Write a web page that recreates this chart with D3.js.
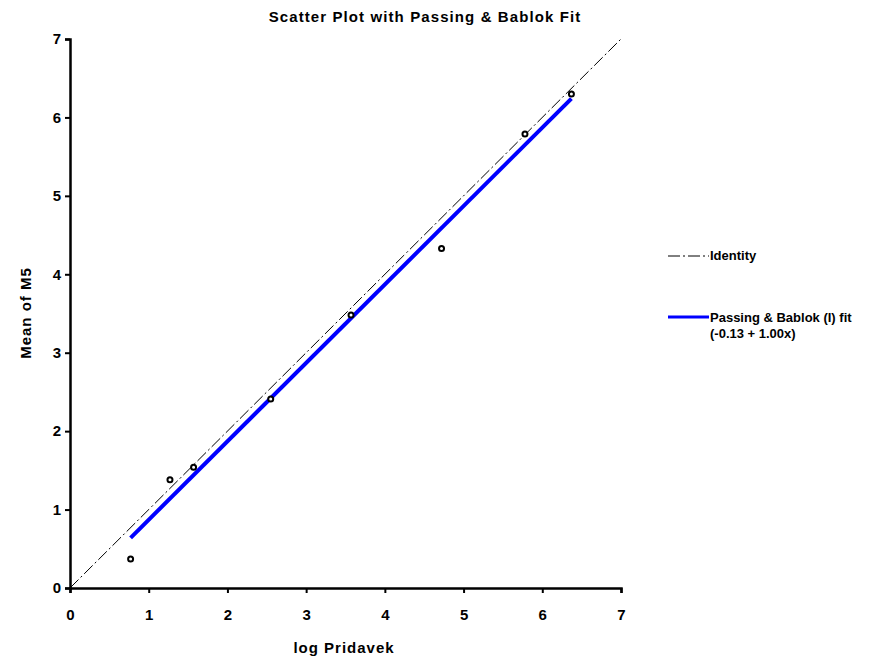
<!DOCTYPE html>
<html><head><meta charset="utf-8">
<script src="https://cdn.jsdelivr.net/npm/d3@7"></script>
<style>body{margin:0;background:#fff}text{font-family:"Liberation Sans",Arial,sans-serif}</style>
</head><body>
<svg id="c" width="888" height="662"></svg>
<script>
const xValues = [0.77, 1.27, 1.57, 2.55, 3.57, 4.72, 5.78, 6.37];
const yValues = [0.37, 1.38, 1.54, 2.41, 3.48, 4.33, 5.79, 6.30];
const tickValues = [0, 1, 2, 3, 4, 5, 6, 7];
const fitIntercept = -0.13, fitSlope = 1.00;
const legendLabels = ["Identity", "Passing & Bablok (I) fit", "(-0.13 + 1.00x)"];

const svg = d3.select("#c");
const x = d3.scaleLinear().domain([0, 7]).range([70, 621]);
const y = d3.scaleLinear().domain([0, 7]).range([588, 39]);

// identity
svg.append("line").attr("x1", x(0)).attr("y1", y(0)).attr("x2", x(7)).attr("y2", y(7))
  .attr("stroke", "#000").attr("stroke-width", 1).attr("stroke-dasharray", "12,3,2,3");
// fit
const x0 = d3.min(xValues), x1 = d3.max(xValues);
svg.append("line").attr("x1", x(x0)).attr("y1", y(fitIntercept + fitSlope * x0))
  .attr("x2", x(x1)).attr("y2", y(fitIntercept + fitSlope * x1))
  .attr("stroke", "#0000ff").attr("stroke-width", 4);
// points
svg.selectAll("circle.p").data(xValues).enter().append("circle")
  .attr("cx", (d) => x(d)).attr("cy", (d, i) => y(yValues[i])).attr("r", 2.5)
  .attr("fill", "#fff").attr("stroke", "#000").attr("stroke-width", 2);

// axes
const xa = svg.append("g").attr("transform", "translate(0,588)")
  .call(d3.axisBottom(x).tickValues(tickValues).tickSize(5).tickPadding(16).tickFormat(d3.format("d")));
const ya = svg.append("g").attr("transform", "translate(70,0)")
  .call(d3.axisLeft(y).tickValues(tickValues).tickSize(5).tickPadding(4).tickFormat(d3.format("d")));
[xa, ya].forEach(a => {
  a.select(".domain").attr("stroke-width", 2.5);
  a.selectAll(".tick line").attr("stroke-width", 2);
  a.selectAll("text").attr("font-size", 15).attr("font-weight", "bold").attr("fill", "#000");
});

svg.append("text").attr("x", 425).attr("y", 22).attr("text-anchor", "middle")
  .attr("font-size", 15).attr("letter-spacing", 1.1).attr("font-weight", "bold").text("Scatter Plot with Passing & Bablok Fit");
svg.append("text").attr("x", 344).attr("y", 653).attr("text-anchor", "middle")
  .attr("font-size", 15).attr("letter-spacing", 1).attr("font-weight", "bold").text("log Pridavek");
svg.append("text").attr("transform", "translate(31,313) rotate(-90)").attr("text-anchor", "middle")
  .attr("font-size", 15).attr("letter-spacing", 1).attr("font-weight", "bold").text("Mean of M5");

// legend
svg.append("line").attr("x1", 668).attr("x2", 709).attr("y1", 256).attr("y2", 256)
  .attr("stroke", "#000").attr("stroke-width", 1).attr("stroke-dasharray", "12,3,2,3");
svg.append("text").attr("x", 710).attr("y", 260).attr("font-size", 13).attr("font-weight", "bold").text(legendLabels[0]);
svg.append("line").attr("x1", 668).attr("x2", 709).attr("y1", 317).attr("y2", 317)
  .attr("stroke", "#0000ff").attr("stroke-width", 3);
svg.append("text").attr("x", 710).attr("y", 322).attr("font-size", 13).attr("font-weight", "bold").text(legendLabels[1]);
svg.append("text").attr("x", 710).attr("y", 338).attr("font-size", 13).attr("font-weight", "bold").text(legendLabels[2]);
</script>
</body></html>
